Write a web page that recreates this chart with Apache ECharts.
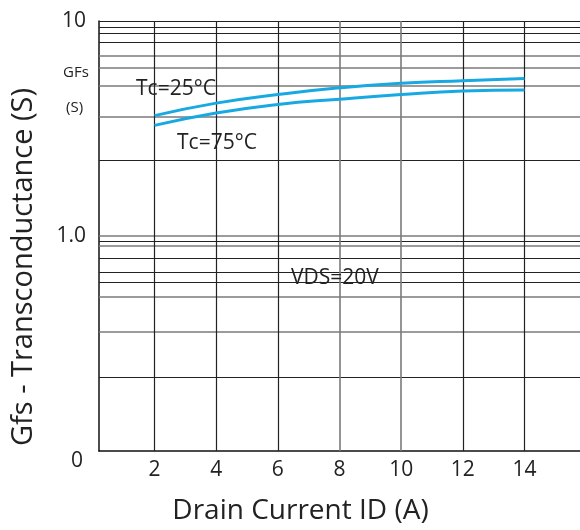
<!DOCTYPE html>
<html>
<head>
<meta charset="utf-8">
<script src="https://cdn.jsdelivr.net/npm/echarts@6/dist/echarts.min.js"></script>
<style>html,body{margin:0;padding:0;background:#fff}#c{width:580px;height:530px}</style>
</head>
<body>
<div id="c"></div>
<script>
// Data
var drainCurrent = [2, 4, 6, 8, 10, 12, 14];
var gfs25 = [3.63, 4.15, 4.55, 4.89, 5.14, 5.28, 5.40];
var gfs75 = [3.27, 3.73, 4.09, 4.33, 4.55, 4.72, 4.77];
var xTicks = [2, 4, 6, 8, 10, 12, 14];
var yTicks = [0.1, 1, 10];
// irregular horizontal grid lines as drawn in the reference
var hGridDark = [10, 9.38, 8.74, 7.95, 2.25, 0.955, 0.792, 0.684, 0.607, 0.222];
var hGridGray = [6.87, 6.09, 4.99, 3.60, 1, 0.895, 0.519, 0.361];
var vGridDark = [2, 4, 6, 12, 14];
var vGridGray = [8, 10];

var FONT = 'Open Sans';
var chart = echarts.init(document.getElementById('c'));

function pairs(xs, ys) { return xs.map(function (x, i) { return [x, ys[i]]; }); }

var gridLines = [];
hGridDark.forEach(function (v) { gridLines.push({ yAxis: v, lineStyle: { color: '#222', width: 1.2, type: 'solid' } }); });
hGridGray.forEach(function (v) { gridLines.push({ yAxis: v, lineStyle: { color: '#7a7a7a', width: 1.6, type: 'solid' } }); });
vGridDark.forEach(function (v) { gridLines.push({ xAxis: v, lineStyle: { color: '#222', width: 1.2, type: 'solid' } }); });
vGridGray.forEach(function (v) { gridLines.push({ xAxis: v, lineStyle: { color: '#7a7a7a', width: 1.6, type: 'solid' } }); });

var option = {
  backgroundColor: '#fff',
  animation: false,
  grid: { left: 99, right: 0, top: 21, bottom: 79, containLabel: false },
  xAxis: {
    type: 'value', min: 0.2, max: 15.8,
    axisLine: { show: true, onZero: false, lineStyle: { color: '#111', width: 1.5 } },
    axisTick: { show: false },
    splitLine: { show: false },
    axisLabel: { customValues: xTicks, color: '#222', fontSize: 21, fontFamily: FONT, margin: 9 },
    name: 'Drain Current ID (A)', nameLocation: 'middle', nameGap: 46,
    nameTextStyle: { color: '#222', fontSize: 28, fontFamily: FONT, padding: [0, 78, 0, 0] }
  },
  yAxis: {
    type: 'log', logBase: 10, min: 0.1, max: 10,
    axisLine: { show: true, lineStyle: { color: '#111', width: 1.5 } },
    axisTick: { show: false },
    splitLine: { show: false },
    minorSplitLine: { show: false },
    axisLabel: {
      customValues: yTicks,
      color: '#222', fontSize: 21, fontFamily: FONT, margin: 13,
      formatter: function (v) { return v >= 9.9 ? '10' : (v >= 0.99 ? '1.0' : '{z|0}'); },
      rich: { z: { fontSize: 21, fontFamily: FONT, color: '#222', padding: [20, 3, 0, 0] } }
    },
    name: 'Gfs - Transconductance (S)', nameLocation: 'middle', nameGap: 61, nameRotate: 90,
    nameTextStyle: { color: '#222', fontSize: 29, fontFamily: FONT, padding: [0, 62, 0, 0] }
  },
  series: [
    {
      type: 'line', name: 'Tc=25°C', data: pairs(drainCurrent, gfs25), smooth: true,
      showSymbol: false, lineStyle: { color: '#18a9e3', width: 3 }, z: 5,
      markLine: { silent: true, symbol: 'none', label: { show: false }, animation: false, data: gridLines, z: 1 }
    },
    {
      type: 'line', name: 'Tc=75°C', data: pairs(drainCurrent, gfs75), smooth: true,
      showSymbol: false, lineStyle: { color: '#18a9e3', width: 3 }, z: 5
    }
  ],
  graphic: [
    { type: 'text', x: 63, y: 73, style: { text: 'GFs', fontSize: 15, fontFamily: FONT, fill: '#222', verticalAlign: 'middle' } },
    { type: 'text', x: 66, y: 108, style: { text: '(S)', fontSize: 15, fontFamily: FONT, fill: '#222', verticalAlign: 'middle' } },
    { type: 'text', x: 136, y: 89, z: 10, style: { text: 'Tc=25°C', fontSize: 21, fontFamily: FONT, fill: '#222', verticalAlign: 'middle' } },
    { type: 'text', x: 177, y: 143, z: 10, style: { text: 'Tc=75°C', fontSize: 21, fontFamily: FONT, fill: '#222', verticalAlign: 'middle' } },
    { type: 'text', x: 291, y: 278, z: 10, style: { text: 'VDS=20V', fontSize: 21, fontFamily: FONT, fill: '#222', verticalAlign: 'middle' } }
  ]
};
chart.setOption(option);
</script>
</body>
</html>
